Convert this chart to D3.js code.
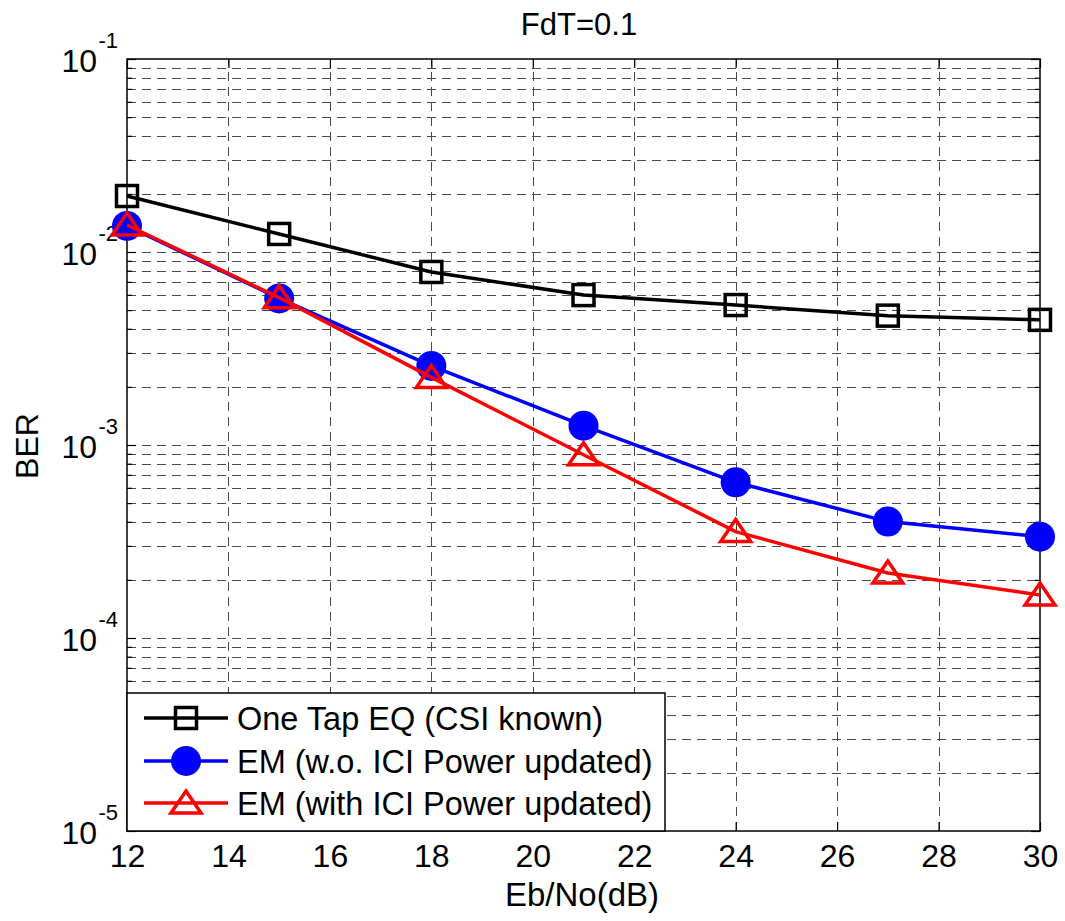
<!DOCTYPE html>
<html><head><meta charset="utf-8">
<script src="https://cdn.jsdelivr.net/npm/d3@7"></script>
<style>
body{margin:0;background:#fff}
svg{display:block}
text{font-family:"Liberation Sans",Arial,Helvetica,sans-serif;fill:#000}
</style>
</head><body>
<svg id="chart" width="1065" height="921"></svg>
<script>
// ---- data ----
const snr = [12, 15, 18, 21, 24, 27, 30];
const berOneTap = [0.0195, 0.0124, 0.00788, 0.00598, 0.00531, 0.00468, 0.00445];
const berEmNoIci = [0.01365, 0.00575, 0.00257, 0.00126, 0.000641, 0.000401, 0.000335];
const berEmIci = [0.0138, 0.0058, 0.00224, 0.00089, 0.000356, 0.000217, 0.000167];
const seriesNames = ["One Tap EQ (CSI known)", "EM (w.o. ICI Power updated)", "EM (with ICI Power updated)"];
const xTickValues = [12, 14, 16, 18, 20, 22, 24, 26, 28, 30];
const yTickExponents = [-1, -2, -3, -4, -5];
const titleText = "FdT=0.1";
const xLabelText = "Eb/No(dB)";
const yLabelText = "BER";

// ---- layout ----
const L = 127, R = 1040, T = 59, B = 831;
const svg = d3.select("#chart");
const x = d3.scaleLinear().domain([12, 30]).range([L, R]);
const y = d3.scaleLog().domain([1e-5, 1e-1]).range([B, T]);

const majorY = yTickExponents.map(e => Math.pow(10, e));
const minorY = [];
yTickExponents.slice(1).forEach(e => { for (let k = 2; k <= 9; k++) minorY.push(k * Math.pow(10, e)); });
const innerMajorY = majorY.filter(v => v > 1e-5 && v < 1e-1);

const gridStyle = g => {
  g.select(".domain").remove();
  g.selectAll("line").attr("stroke", "#4a4a4a").attr("stroke-width", 1)
    .attr("stroke-dasharray", "9,6").attr("shape-rendering", "crispEdges");
  g.selectAll("text").remove();
};

// vertical grid (bottom to top)
svg.append("g").attr("transform", `translate(0,${B})`)
  .call(d3.axisBottom(x).tickValues(xTickValues.slice(1, -1)).tickSize(-(B - T)).tickFormat(""))
  .call(gridStyle);
// horizontal grid (left to right)
svg.append("g").attr("transform", `translate(${L},0)`)
  .call(d3.axisLeft(y).tickValues(minorY.concat(innerMajorY)).tickSize(-(R - L)).tickFormat(""))
  .call(gridStyle);

// tick marks inside
const tickStyle = g => {
  g.select(".domain").remove();
  g.selectAll("line").attr("stroke", "#000").attr("stroke-width", 1.2);
  g.selectAll("text").remove();
};
svg.append("g").attr("transform", `translate(0,${B})`)
  .call(d3.axisBottom(x).tickValues(xTickValues).tickSize(-9).tickFormat("")).call(tickStyle);
svg.append("g").attr("transform", `translate(0,${T})`)
  .call(d3.axisTop(x).tickValues(xTickValues).tickSize(-9).tickFormat("")).call(tickStyle);
svg.append("g").attr("transform", `translate(${L},0)`)
  .call(d3.axisLeft(y).tickValues(majorY).tickSize(-9).tickFormat("")).call(tickStyle);
svg.append("g").attr("transform", `translate(${L},0)`)
  .call(d3.axisLeft(y).tickValues(minorY).tickSize(-5).tickFormat("")).call(tickStyle);
svg.append("g").attr("transform", `translate(${R},0)`)
  .call(d3.axisRight(y).tickValues(majorY).tickSize(-9).tickFormat("")).call(tickStyle);
svg.append("g").attr("transform", `translate(${R},0)`)
  .call(d3.axisRight(y).tickValues(minorY).tickSize(-5).tickFormat("")).call(tickStyle);

// axis box
svg.append("rect").attr("x", L).attr("y", T).attr("width", R - L).attr("height", B - T)
  .attr("fill", "none").attr("stroke", "#000").attr("stroke-width", 1.5);

// x tick labels
const xLab = svg.append("g").attr("transform", `translate(0,${B})`)
  .call(d3.axisBottom(x).tickValues(xTickValues).tickSize(0).tickPadding(0).tickFormat(d3.format("d")));
xLab.select(".domain").remove();
xLab.selectAll("text").attr("y", 36).attr("dy", null)
  .style("font-size", "32px").style("font-family", '"Liberation Sans",Arial,sans-serif').attr("fill", "#000");

// y tick labels: 10^e
const yLab = svg.append("g").attr("transform", `translate(${L},0)`)
  .call(d3.axisLeft(y).tickValues(majorY).tickSize(0).tickFormat(""));
yLab.select(".domain").remove();
yLab.selectAll(".tick").each(function (d) {
  const g = d3.select(this);
  g.append("text").attr("x", -30).attr("y", 12).attr("text-anchor", "end")
    .style("font-size", "32px").text("10");
  g.append("text").attr("x", -9).attr("y", -12).attr("text-anchor", "end")
    .style("font-size", "22px").text(String(Math.round(Math.log10(d))));
});

// title and labels
svg.append("text").attr("x", 579).attr("y", 35).attr("text-anchor", "middle")
  .style("font-size", "31px").text(titleText);
svg.append("text").attr("x", 582).attr("y", 906).attr("text-anchor", "middle")
  .style("font-size", "33px").text(xLabelText);
svg.append("text").attr("transform", "translate(38,446) rotate(-90)").attr("text-anchor", "middle")
  .style("font-size", "32px").text(yLabelText);

// ---- series ----
const line = d3.line().x(d => x(d[0])).y(d => y(d[1]));
const triPath = "M0,-12L15,10L-15,10Z";

function drawMarker(g, type, color) {
  if (type === "square") {
    g.append("rect").attr("x", -10.5).attr("y", -10.5).attr("width", 21).attr("height", 21)
      .attr("fill", "none").attr("stroke", color).attr("stroke-width", 3.5);
  } else if (type === "circle") {
    g.append("circle").attr("r", 15).attr("fill", color).attr("stroke", "none");
  } else {
    g.append("path").attr("d", triPath).attr("fill", "none").attr("stroke", color)
      .attr("stroke-width", 3.5).attr("stroke-linejoin", "miter");
  }
}

const series = [
  { name: seriesNames[0], vals: berOneTap, color: "#000000", marker: "square" },
  { name: seriesNames[1], vals: berEmNoIci, color: "#0000ff", marker: "circle" },
  { name: seriesNames[2], vals: berEmIci, color: "#ff0000", marker: "triangle" }
];

series.forEach(s => {
  const pts = snr.map((v, i) => [v, s.vals[i]]);
  svg.append("path").datum(pts).attr("d", line).attr("fill", "none")
    .attr("stroke", s.color).attr("stroke-width", 3.5).attr("stroke-linejoin", "round");
  pts.forEach(p => {
    const g = svg.append("g").attr("transform", `translate(${x(p[0])},${y(p[1])})`);
    drawMarker(g, s.marker, s.color);
  });
});

// ---- legend ----
const lg = svg.append("g");
lg.append("rect").attr("x", L).attr("y", 693).attr("width", 665 - L).attr("height", B - 693)
  .attr("fill", "#fff").attr("stroke", "#000").attr("stroke-width", 1.5);
const rowsY = [718, 761, 803];
series.forEach((s, i) => {
  const yy = rowsY[i];
  lg.append("line").attr("x1", 144).attr("x2", 228).attr("y1", yy).attr("y2", yy)
    .attr("stroke", s.color).attr("stroke-width", 3.5);
  const g = lg.append("g").attr("transform", `translate(186,${yy})`);
  drawMarker(g, s.marker, s.color);
  lg.append("text").attr("x", 237).attr("y", yy + 12).style("font-size", "32.5px").text(s.name);
});
</script>
</body></html>
